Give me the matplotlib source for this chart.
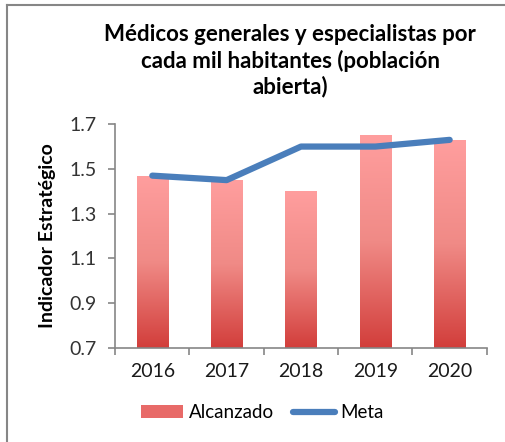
import numpy as np
import matplotlib
matplotlib.use("Agg")
import matplotlib.pyplot as plt
from matplotlib.patches import Rectangle
from matplotlib.lines import Line2D
from matplotlib.colors import LinearSegmentedColormap

years = ["2016", "2017", "2018", "2019", "2020"]
alcanzado = [1.47, 1.45, 1.40, 1.65, 1.63]
meta = [1.47, 1.45, 1.60, 1.60, 1.63]
yticks = [0.7, 0.9, 1.1, 1.3, 1.5, 1.7]

plt.rcParams['font.family'] = ['Lato', 'DejaVu Sans']

fig = plt.figure(figsize=(5.05, 4.42), dpi=100)
ax = fig.add_axes([0.228, 0.213, 0.736, 0.506])

# gradient bars (light pink on top, red at the bottom)
cmap = LinearSegmentedColormap.from_list("bar", ["#D23E3B", "#F08A86", "#FF9E9E"])
grad = np.linspace(0, 1, 256).reshape(-1, 1)
x = np.arange(len(years))
width = 0.42
ymin = 0.7
for xi, v in zip(x, alcanzado):
    rect = Rectangle((xi - width / 2, ymin), width, v - ymin, facecolor="none", edgecolor="none")
    ax.add_patch(rect)
    im = ax.imshow(grad, cmap=cmap, aspect="auto", origin="lower",
                   extent=(xi - width / 2, xi + width / 2, ymin, v), zorder=2)
    im.set_clip_path(rect)

ax.plot(x, meta, color="#4A7EBB", linewidth=4.5, solid_capstyle="round", zorder=3)

ax.set_xlim(-0.5, len(years) - 0.5)
ax.set_ylim(0.7, 1.7)
ax.set_yticks(yticks)
ax.set_yticklabels([f"{t:.1f}" for t in yticks], fontsize=14, color="#333333")
ax.set_xticks(x)
ax.set_xticklabels(years, fontsize=14, color="#1a1a1a")
ax.set_xticks(np.arange(-0.5, len(years)), minor=True)
ax.tick_params(axis="x", which="major", length=0, pad=11)
ax.tick_params(axis="x", which="minor", length=5, color="#868686", width=1.2)
ax.tick_params(axis="y", length=5, color="#868686", width=1.2, pad=8)
for s in ["top", "right"]:
    ax.spines[s].set_visible(False)
for s in ["left", "bottom"]:
    ax.spines[s].set_color("#868686")
    ax.spines[s].set_linewidth(1.2)

ax.set_ylabel("Indicador Estratégico", fontsize=14, fontweight="bold", labelpad=10)

fig.text(0.575, 0.779, "Médicos generales y especialistas por\ncada mil habitantes (población\nabierta)",
         ha="center", va="bottom", fontsize=16, fontweight="bold", linespacing=1.25)

# legend
handles = [Rectangle((0, 0), 1, 1, facecolor="#E86A68", edgecolor="none"),
           Line2D([0], [0], color="#4A7EBB", linewidth=4.5, solid_capstyle="round")]
fig.legend(handles, ["Alcanzado", "Meta"], loc="center", bbox_to_anchor=(0.52, 0.066),
           ncol=2, frameon=False, fontsize=13.5, handlelength=2.25, handletextpad=0.3,
           columnspacing=1.0)

# frame lines at left and top of the picture
fig.add_artist(Line2D([0.014, 0.014], [0, 0.989], transform=fig.transFigure, color="#868686", linewidth=1.5))
fig.add_artist(Line2D([0.014, 1.0], [0.989, 0.989], transform=fig.transFigure, color="#868686", linewidth=1.5))

fig.savefig("out.png", dpi=100)
